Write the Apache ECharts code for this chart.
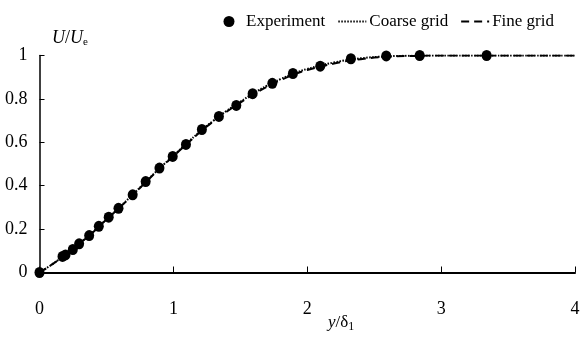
<!DOCTYPE html>
<html><head><meta charset="utf-8">
<script src="https://cdn.jsdelivr.net/npm/echarts@6/dist/echarts.min.js"></script>
<style>html,body{margin:0;padding:0;background:#fff}#c{width:584px;height:345px}</style>
</head><body><div id="c"></div>
<script>
const expX = [0, 0.172, 0.194, 0.249, 0.296, 0.371, 0.443, 0.517, 0.590, 0.696, 0.793, 0.896, 0.995, 1.094, 1.213, 1.340, 1.470, 1.592, 1.739, 1.893, 2.097, 2.326, 2.590, 2.840, 3.340];
const expY = [0, 0.074, 0.081, 0.106, 0.132, 0.170, 0.213, 0.255, 0.296, 0.358, 0.419, 0.481, 0.535, 0.590, 0.659, 0.719, 0.770, 0.824, 0.872, 0.917, 0.951, 0.985, 0.998, 1.0, 1.0];
const lineX = [0, 0.1, 0.2, 0.3, 0.4, 0.5, 0.6, 0.7, 0.8, 0.9, 1.0, 1.1, 1.2, 1.3, 1.4, 1.5, 1.6, 1.7, 1.8, 1.9, 2.0, 2.2, 2.4, 2.6, 2.8, 3.0, 3.5, 4.0];
const coarseY = [0, 0.040, 0.085, 0.135, 0.187, 0.245, 0.302, 0.361, 0.422, 0.482, 0.538, 0.595, 0.650, 0.700, 0.746, 0.787, 0.826, 0.861, 0.891, 0.917, 0.938, 0.968, 0.987, 0.996, 0.999, 1.0, 1.0, 1.0];
const fineY = [0, 0.040, 0.084, 0.134, 0.186, 0.244, 0.300, 0.359, 0.420, 0.480, 0.536, 0.592, 0.647, 0.697, 0.742, 0.783, 0.821, 0.856, 0.886, 0.912, 0.933, 0.963, 0.983, 0.994, 0.998, 1.0, 1.0, 1.0];
const xTicks = [0, 1, 2, 3, 4];
const yTicks = [0, 0.2, 0.4, 0.6, 0.8, 1];

const F = 'Liberation Serif, Times New Roman, serif';
const pairs = (xs, ys) => xs.map((x, i) => [x, ys[i]]);
const chart = echarts.init(document.getElementById('c'));
chart.setOption({
  animation: false,
  backgroundColor: '#fff',
  grid: { left: 39.5, right: 9, top: 55.5, bottom: 72.5 },
  legend: {
    top: 8, right: 25, itemGap: 12, itemWidth: 28, itemHeight: 11,
    textStyle: { fontFamily: F, fontSize: 17, color: '#000', padding: [0, 0, 0, -2] },
    data: [
      { name: 'Experiment', icon: 'circle', itemStyle: { opacity: 1 } },
      { name: 'Coarse grid', itemStyle: { opacity: 0 } },
      { name: 'Fine grid', itemStyle: { opacity: 0 } }
    ]
  },
  xAxis: {
    type: 'value', min: 0, max: 4, interval: 1,
    axisLine: { lineStyle: { color: '#000', width: 2 } },
    axisTick: { inside: true, length: 6, lineStyle: { color: '#000', width: 1 } },
    axisLabel: { fontFamily: F, fontSize: 18, color: '#000', margin: 28,
      formatter: v => xTicks.includes(v) ? String(v) : '' },
    splitLine: { show: false }
  },
  yAxis: {
    type: 'value', min: 0, max: 1, interval: 0.2,
    axisLine: { show: true, lineStyle: { color: '#000', width: 1.5 } },
    axisTick: { show: true, inside: true, length: 5, lineStyle: { color: '#000', width: 1 } },
    axisLabel: { fontFamily: F, fontSize: 18, color: '#000', margin: 12,
      formatter: v => { const t = yTicks.find(a => Math.abs(a - v) < 1e-9); return t === undefined ? '' : String(t); } },
    splitLine: { show: false }
  },
  graphic: [
    { type: 'text', left: 52, top: 29, style: {
      text: '{i|U}{n|/}{i|U}{s|e}',
      rich: {
        i: { fontFamily: F, fontStyle: 'italic', fontSize: 18, fill: '#000' },
        n: { fontFamily: F, fontSize: 18, fill: '#000' },
        s: { fontFamily: F, fontSize: 11, fill: '#000', verticalAlign: 'bottom', padding: [8, 0, 0, 0] }
      } } },
    { type: 'text', left: 328, top: 314, style: {
      text: '{i|y}{n|/δ}{s|1}',
      rich: {
        i: { fontFamily: F, fontStyle: 'italic', fontSize: 17, fill: '#000' },
        n: { fontFamily: F, fontSize: 17, fill: '#000' },
        s: { fontFamily: F, fontSize: 12, fill: '#000', verticalAlign: 'bottom', padding: [8, 0, 0, 0] }
      } } }
  ],
  series: [
    { name: 'Coarse grid', type: 'line', data: pairs(lineX, coarseY), symbol: 'none', smooth: true,
      lineStyle: { color: '#000', width: 2, type: [1.5, 1.5] }, itemStyle: { color: '#000' }, z: 3 },
    { name: 'Fine grid', type: 'line', data: pairs(lineX, fineY), symbol: 'none', smooth: true,
      lineStyle: { color: '#000', width: 2, type: [8, 5] }, itemStyle: { color: '#000' }, z: 4 },
    { name: 'Experiment', type: 'scatter', data: pairs(expX, expY), symbol: 'circle', symbolSize: [10, 11],
      itemStyle: { color: '#000', opacity: 1 }, z: 5 }
  ]
});
</script></body></html>
